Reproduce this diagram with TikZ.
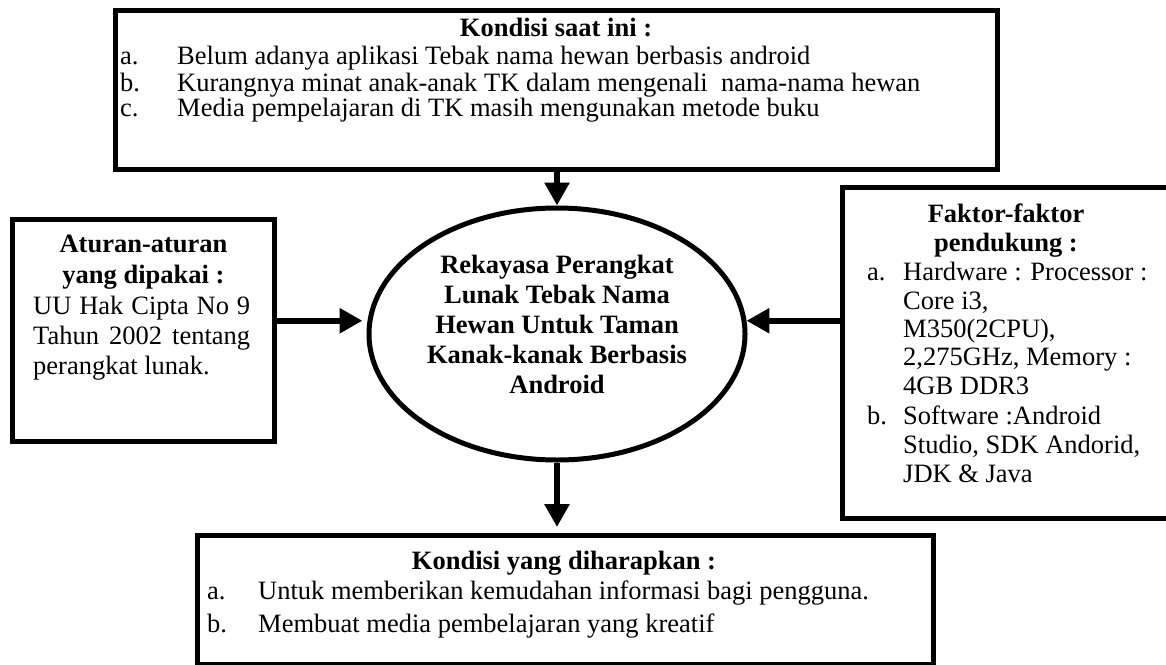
\documentclass[tikz,border=0pt]{standalone}
\usepackage{fontspec}
\setmainfont{Liberation Serif}
\usetikzlibrary{arrows.meta,shapes.geometric}
\begin{document}
\begin{tikzpicture}[x=1pt,y=-1pt,
  box/.style={draw=black, line width=5pt, inner sep=0pt, outer sep=0pt},
  txt/.style={inner sep=0pt, font=\fontsize{26.5}{30}\selectfont},
  item/.style={txt, anchor=mid west},
  head/.style={inner sep=0pt, anchor=mid, font=\fontsize{26.5}{30}\selectfont\bfseries},
  flow/.style={line width=6.5pt, -{Triangle[length=23pt,width=24pt]}}]
\useasboundingbox (0,0) rectangle (1166,664);
\fill[white] (0,0) rectangle (1166,664);

% frames
\node[box, minimum width=882pt, minimum height=159.5pt] (now) at (556,89.75) {};
\node[box, minimum width=262pt, minimum height=222pt] (rules) at (143.5,330.5) {};
\node[box, minimum width=332.5pt, minimum height=331pt] (support) at (1008.75,352.75) {};
\node[box, minimum width=736pt, minimum height=129pt] (goal) at (565,599.5) {};
\node[draw=black, ellipse, line width=5pt, inner sep=0pt, minimum width=376pt, minimum height=252pt] (core) at (557,334) {};

% centre text
\node[head, anchor=center, align=center] (coretext) at (557,324)
  {Rekayasa Perangkat\\Lunak Tebak Nama\\Hewan Untuk Taman\\Kanak-kanak Berbasis\\Android};

% current situation
\node[head] (nowtitle) at (556,34) {Kondisi saat ini :};
\node[item] (nowla) at (120,62) {a.};
\node[item] (nowa) at (177,62) {Belum adanya aplikasi Tebak nama hewan berbasis android};
\node[item] (nowlb) at (120,89) {b.};
\node[item] (nowb) at (177,89) {Kurangnya minat anak-anak TK dalam mengenali~ nama-nama hewan};
\node[item] (nowlc) at (120,114) {c.};
\node[item] (nowc) at (177,114) {Media pempelajaran di TK masih mengunakan metode buku};

% rules
\node[head] (rulest1) at (143.5,250) {Aturan-aturan};
\node[head] (rulest2) at (143.5,281) {yang dipakai :};
\node[item] (rules1) at (33,312) {\makebox[217pt][s]{UU Hak Cipta No 9}};
\node[item] (rules2) at (33,342) {\makebox[217pt][s]{Tahun 2002 tentang}};
\node[item] (rules3) at (33,372) {perangkat lunak.};

% supporting factors
\node[head] (supt1) at (1006,220) {Faktor-faktor};
\node[head] (supt2) at (1006,249) {pendukung :};
\node[item] (supla) at (867,278) {a.};
\node[item] (sup1) at (903,278) {Hardware : Processor :};
\node[item] (sup2) at (903,307) {Core i3,};
\node[item] (sup3) at (903,335) {M350(2CPU),};
\node[item] (sup4) at (903,363) {2,275GHz, Memory :};
\node[item] (sup5) at (903,392) {4GB DDR3};
\node[item] (suplb) at (867,422) {b.};
\node[item] (sup6) at (903,422) {Software :Android};
\node[item] (sup7) at (903,451) {Studio, SDK Andorid,};
\node[item] (sup8) at (903,480) {JDK \& Java};

% expected situation
\node[head] (goaltitle) at (564,567) {Kondisi yang diharapkan :};
\node[item] (goalla) at (207,597) {a.};
\node[item] (goala) at (258,597) {Untuk memberikan kemudahan informasi bagi pengguna.};
\node[item] (goallb) at (207,630) {b.};
\node[item] (goalb) at (258,630) {Membuat media pembelajaran yang kreatif};

% connectors
\draw[flow] (core.north |- now.south) -- (core.north);
\draw[flow, shorten >=5pt] (rules.east |- core.176) -- (core.176);
\draw[flow] (support.west |- core.4) -- (core.4);
\draw[flow, shorten >=8pt] (core.south) -- (core.south |- goal.north);
\end{tikzpicture}
\end{document}
